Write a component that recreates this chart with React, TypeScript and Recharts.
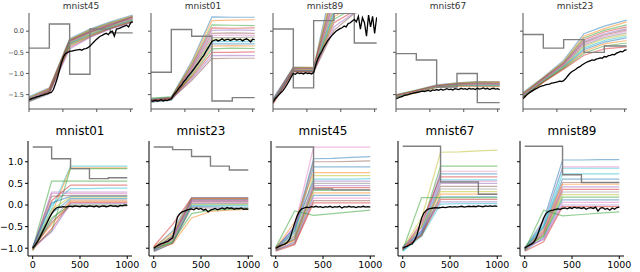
import { LineChart, Line, XAxis, YAxis } from 'recharts'

// breakpoints of the piecewise-linear runs
const TOP_X = [0, 300, 600, 900, 1200, 1530]
const BOT_X = [0, 200, 400, 600, 800, 1000]
const TOP_STEP = 30
const BOT_STEP = 25
const TOP_TICKS_X = [0, 500, 1000, 1500]
const BOT_TICKS_X = [0, 500, 1000]
const TOP_TICKS_Y = [0, -0.5, -1, -1.5]
const BOT_TICKS_Y = [1, 0.5, 0, -0.5, -1]

const TAB10 = ['#1f77b4', '#ff7f0e', '#2ca02c', '#d62728', '#9467bd', '#8c564b', '#e377c2', '#7f7f7f', '#bcbd22', '#17becf']

// ---- top row ----
const t45Fan = [
  [-1.55, -1.34, -0.18, 0.05, 0.22, 0.38],
  [-1.57, -1.35, -0.2, 0.03, 0.2, 0.36],
  [-1.58, -1.37, -0.21, 0.02, 0.19, 0.34],
  [-1.6, -1.38, -0.23, 0.0, 0.17, 0.33],
  [-1.61, -1.39, -0.24, -0.01, 0.16, 0.31],
  [-1.62, -1.4, -0.25, -0.03, 0.15, 0.3],
  [-1.59, -1.41, -0.26, -0.04, 0.14, 0.29],
  [-1.63, -1.42, -0.27, -0.05, 0.12, 0.28],
  [-1.64, -1.43, -0.28, -0.06, 0.11, 0.27],
  [-1.6, -1.44, -0.29, -0.08, 0.1, 0.26],
  [-1.65, -1.45, -0.3, -0.09, 0.09, 0.25],
  [-1.62, -1.46, -0.32, -0.1, 0.08, 0.24],
  [-1.66, -1.47, -0.34, -0.12, 0.07, 0.23],
  [-1.64, -1.44, -0.38, -0.13, 0.06, 0.22],
  [-1.67, -1.48, -0.42, -0.15, 0.05, 0.21],
  [-1.63, -1.42, -0.22, -0.02, 0.13, 0.35],
]
const t45Gray = [-0.4, 0.17, -1.02, 0.05, -0.04, -0.04]
const t45Black = [
  -1.62, -1.6, -1.58, -1.57, -1.55, -1.54, -1.52, -1.51, -1.49, -1.48,
  -1.46, -1.45, -1.38, -1.25, -1.1, -0.92, -0.74, -0.6, -0.53, -0.5,
  -0.48, -0.47, -0.46, -0.45, -0.44, -0.43, -0.45, -0.42, -0.41, -0.39,
  -0.35, -0.3, -0.25, -0.2, -0.16, -0.12, -0.1, -0.07, -0.05, -0.08,
  -0.02, 0.0, -0.12, 0.05, 0.06, 0.08, 0.1, 0.12, 0.14, 0.1,
  0.2, 0.22,
]

const t01Fan = [
  [-1.6, -1.56, -0.72, 0.34, 0.33, 0.33],
  [-1.62, -1.57, -0.76, 0.25, 0.26, 0.27],
  [-1.58, -1.55, -0.8, 0.15, 0.14, 0.13],
  [-1.63, -1.58, -0.83, 0.08, 0.07, 0.08],
  [-1.65, -1.6, -0.86, 0.02, 0.03, 0.02],
  [-1.61, -1.57, -0.89, -0.05, -0.04, -0.05],
  [-1.66, -1.61, -0.91, -0.1, -0.09, -0.1],
  [-1.64, -1.59, -0.94, -0.15, -0.15, -0.14],
  [-1.67, -1.62, -0.96, -0.2, -0.19, -0.2],
  [-1.62, -1.58, -0.98, -0.25, -0.24, -0.25],
  [-1.68, -1.63, -1.0, -0.3, -0.3, -0.3],
  [-1.65, -1.6, -1.03, -0.35, -0.34, -0.35],
  [-1.66, -1.61, -1.06, -0.42, -0.4, -0.41],
  [-1.63, -1.59, -1.09, -0.5, -0.5, -0.49],
  [-1.67, -1.62, -1.13, -0.58, -0.57, -0.58],
  [-1.64, -1.6, -1.17, -0.65, -0.64, -0.64],
]
const t01Gray = [-0.97, 0.04, -0.12, -1.65, -1.57, -1.57]
const t01Black = [
  -1.64, -1.66, -1.63, -1.65, -1.64, -1.62, -1.65, -1.63, -1.64, -1.62,
  -1.6, -1.52, -1.46, -1.4, -1.33, -1.28, -1.2, -1.15, -1.08, -1.02,
  -0.96, -0.9, -0.83, -0.77, -0.7, -0.63, -0.57, -0.48, -0.4, -0.32,
  -0.24, -0.22, -0.2, -0.23, -0.21, -0.18, -0.22, -0.2, -0.19, -0.22,
  -0.2, -0.18, -0.21, -0.2, -0.19, -0.23, -0.2, -0.18, -0.21, -0.25,
  -0.19, -0.2,
]

const t89Fan = [
  [-1.6, -0.85, -0.86, 1.3, 1.6, 1.8],
  [-1.62, -0.86, -0.85, 1.1, 1.4, 1.6],
  [-1.63, -0.87, -0.88, 1.0, 1.3, 1.5],
  [-1.65, -0.88, -0.87, 0.9, 1.2, 1.4],
  [-1.61, -0.89, -0.89, 0.8, 1.1, 1.3],
  [-1.66, -0.9, -0.9, 0.72, 1.0, 1.2],
  [-1.64, -0.9, -0.91, 0.65, 0.9, 1.1],
  [-1.67, -0.91, -0.92, 0.58, 0.85, 1.0],
  [-1.68, -0.92, -0.91, 0.52, 0.8, 0.95],
  [-1.65, -0.93, -0.93, 0.46, 0.75, 0.9],
  [-1.69, -0.93, -0.94, 0.4, 0.7, 0.85],
  [-1.7, -0.94, -0.95, 0.34, 0.62, 0.8],
  [-1.66, -0.95, -0.94, 0.28, 0.55, 0.7],
  [-1.71, -0.96, -0.96, 0.2, 0.48, 0.65],
  [-1.68, -0.92, -0.95, 0.1, 0.44, 0.6],
  [-1.72, -0.95, -0.97, 0.02, 0.42, 0.55],
]
const t89Gray = [0.05, -1.34, 0.25, 0.42, -0.28, -0.28]
const t89Black = [
  -1.68, -1.6, -1.55, -1.5, -1.45, -1.4, -1.33, -1.25, -1.17, -1.08,
  -1.0, -1.02, -0.98, -1.0, -0.99, -1.01, -0.98, -1.0, -0.99, -1.01,
  -0.98, -0.8, -0.66, -0.56, -0.48, -0.38, -0.3, -0.22, -0.16, -0.1,
  -0.05, 0.0, 0.03, 0.06, 0.08, 0.12, 0.1, 0.18, 0.2, 0.24,
  0.28, 0.22, 0.35, 0.05, 0.32, 0.2, -0.12, 0.38, 0.1, 0.35,
  -0.05, 0.33,
]

const t67Fan = [
  [-1.5, -1.39, -1.27, -1.22, -1.19, -1.19],
  [-1.51, -1.4, -1.28, -1.23, -1.2, -1.2],
  [-1.52, -1.4, -1.29, -1.24, -1.21, -1.22],
  [-1.52, -1.41, -1.29, -1.25, -1.23, -1.23],
  [-1.53, -1.42, -1.3, -1.25, -1.24, -1.24],
  [-1.54, -1.42, -1.3, -1.26, -1.25, -1.25],
  [-1.54, -1.43, -1.31, -1.27, -1.26, -1.26],
  [-1.55, -1.44, -1.31, -1.27, -1.27, -1.27],
  [-1.55, -1.44, -1.32, -1.28, -1.28, -1.28],
  [-1.56, -1.45, -1.32, -1.29, -1.29, -1.29],
  [-1.56, -1.45, -1.33, -1.29, -1.3, -1.3],
  [-1.57, -1.46, -1.33, -1.3, -1.31, -1.31],
]
const t67Gray = [-0.53, -0.68, -1.32, -1.0, -1.69, -1.69]
const t67Black = [
  -1.6, -1.58, -1.56, -1.55, -1.52, -1.51, -1.5, -1.48, -1.47, -1.46,
  -1.45, -1.44, -1.43, -1.42, -1.43, -1.41, -1.4, -1.42, -1.39, -1.4,
  -1.38, -1.4, -1.37, -1.39, -1.38, -1.36, -1.38, -1.37, -1.39, -1.36,
  -1.37, -1.38, -1.35, -1.37, -1.36, -1.38, -1.35, -1.37, -1.36, -1.38,
  -1.35, -1.37, -1.36, -1.34, -1.37, -1.35, -1.38, -1.36, -1.35, -1.37,
  -1.36, -1.38,
]

const t23Fan = [
  [-1.45, -1.09, -0.69, -0.06, 0.12, 0.26],
  [-1.47, -1.1, -0.72, -0.12, 0.06, 0.22],
  [-1.48, -1.11, -0.74, -0.16, 0.02, 0.15],
  [-1.5, -1.12, -0.76, -0.2, -0.02, 0.1],
  [-1.51, -1.13, -0.77, -0.24, -0.06, 0.06],
  [-1.52, -1.14, -0.79, -0.27, -0.09, 0.03],
  [-1.53, -1.15, -0.8, -0.3, -0.12, 0.0],
  [-1.54, -1.16, -0.82, -0.33, -0.15, -0.04],
  [-1.55, -1.17, -0.83, -0.36, -0.18, -0.08],
  [-1.55, -1.18, -0.84, -0.4, -0.22, -0.12],
  [-1.56, -1.19, -0.86, -0.44, -0.26, -0.16],
  [-1.57, -1.2, -0.87, -0.48, -0.3, -0.22],
  [-1.56, -1.2, -0.88, -0.52, -0.35, -0.28],
  [-1.57, -1.21, -0.9, -0.57, -0.42, -0.37],
]
const t23Gray = [-0.08, -0.4, -0.2, -0.5, -0.35, -0.35]
const t23Black = [
  -1.6, -1.55, -1.5, -1.46, -1.43, -1.4, -1.37, -1.35, -1.32, -1.3,
  -1.29, -1.27, -1.26, -1.25, -1.23, -1.22, -1.21, -1.2, -1.18, -1.19,
  -1.17, -1.12, -1.06, -1.0, -0.96, -0.93, -0.9, -0.86, -0.84, -0.8,
  -0.77, -0.74, -0.72, -0.7, -0.68, -0.69, -0.66, -0.65, -0.63, -0.64,
  -0.6, -0.61, -0.58, -0.57, -0.55, -0.56, -0.52, -0.5, -0.48, -0.49,
  -0.45, -0.44,
]

// ---- bottom row ----
const b01Fan = [
  [-1.0, -0.1, 0.9, 0.9, 0.9, 0.9],
  [-1.02, -0.2, 0.86, 0.86, 0.86, 0.86],
  [-0.98, -0.6, 0.84, 0.84, 0.84, 0.84],
  [-1.0, 0.55, 0.55, 0.55, 0.55, 0.55],
  [-1.03, 0.1, 0.46, 0.46, 0.46, 0.46],
  [-0.97, 0.0, 0.38, 0.38, 0.39, 0.39],
  [-1.01, 0.3, 0.3, 0.3, 0.3, 0.3],
  [-1.04, 0.27, 0.27, 0.27, 0.27, 0.27],
  [-0.99, 0.2, 0.22, 0.22, 0.22, 0.22],
  [-1.05, -0.1, 0.18, 0.18, 0.18, 0.18],
  [-1.0, -0.2, 0.15, 0.15, 0.15, 0.15],
  [-1.02, -0.35, 0.12, 0.12, 0.12, 0.12],
  [-0.98, -0.45, 0.09, 0.09, 0.09, 0.09],
  [-1.03, -0.55, 0.06, 0.06, 0.06, 0.06],
  [-1.0, -0.62, 0.03, 0.03, 0.03, 0.03],
  [-1.06, -0.3, 0.0, 0.0, 0.0, 0.0],
  [-0.96, 0.05, 0.2, 0.2, 0.2, 0.2],
  [-1.01, -0.4, -0.02, -0.02, -0.02, -0.02],
]
const b01Gray = [1.34, 1.07, 0.84, 0.61, 0.63, 0.63]
const b01Black = [
  -1.0, -0.93, -0.85, -0.75, -0.64, -0.53, -0.42, -0.3, -0.2, -0.12,
  -0.07, -0.05, -0.05, -0.04, -0.05, -0.03, -0.03, -0.04, -0.02, -0.03,
  -0.04, -0.02, -0.03, -0.04, -0.02, -0.03, -0.04, -0.02, -0.05, -0.03,
  -0.02, -0.04, -0.03, -0.01, -0.03, -0.02, -0.04, -0.01, -0.02, 0.0,
  -0.01,
]

const b23Fan = [
  [-1.0, -0.6, 0.17, 0.17, 0.17, 0.17],
  [-0.97, -0.65, 0.15, 0.15, 0.15, 0.15],
  [-1.02, -0.7, 0.13, 0.13, 0.13, 0.13],
  [-1.04, -0.72, 0.11, 0.11, 0.11, 0.11],
  [-0.99, -0.75, 0.09, 0.09, 0.09, 0.09],
  [-1.05, -0.78, 0.07, 0.07, 0.07, 0.07],
  [-1.01, -0.8, 0.05, 0.05, 0.05, 0.05],
  [-1.06, -0.82, 0.03, 0.03, 0.03, 0.03],
  [-0.98, -0.84, 0.01, 0.01, 0.01, 0.01],
  [-1.03, -0.86, -0.01, -0.01, -0.01, -0.01],
  [-1.07, -0.88, -0.03, -0.04, -0.05, -0.05],
  [-1.0, -0.9, -0.3, -0.15, -0.12, -0.1],
  [-1.02, -0.85, -0.2, -0.12, -0.1, -0.08],
  [-0.96, -0.45, 0.16, 0.16, 0.16, 0.16],
  [-1.04, -0.76, 0.12, 0.12, 0.12, 0.12],
  [-1.08, -0.88, -0.06, -0.07, -0.08, -0.08],
]
const b23Gray = [1.34, 1.28, 1.12, 0.9, 0.81, 0.81]
const b23Black = [
  -1.0, -0.96, -0.93, -0.9, -0.88, -0.86, -0.84, -0.8, -0.76, -0.55,
  -0.28, -0.2, -0.16, -0.14, -0.12, -0.1, -0.09, -0.11, -0.07, -0.1,
  -0.08, -0.12, -0.1, -0.16, -0.12, -0.1, -0.08, -0.11, -0.09, -0.07,
  -0.1, -0.06, -0.08, -0.07, -0.1, -0.08, -0.09, -0.07, -0.1, -0.09,
  -0.1,
]

const b45Fan = [
  [-1.0, -0.5, 1.34, 1.34, 1.34, 1.34],
  [-0.98, -0.55, 1.07, 1.08, 1.1, 1.12],
  [-1.02, -0.6, 1.0, 1.0, 1.01, 1.02],
  [-1.0, -0.65, 0.88, 0.88, 0.88, 0.88],
  [-1.04, -0.7, 0.68, 0.68, 0.68, 0.68],
  [-0.97, -0.6, 0.6, 0.6, 0.6, 0.61],
  [-1.01, -0.72, 0.5, 0.5, 0.5, 0.5],
  [-1.05, -0.75, 0.45, 0.45, 0.45, 0.45],
  [-1.0, -0.8, 0.4, 0.4, 0.4, 0.4],
  [-1.03, -0.78, 0.34, 0.34, 0.34, 0.34],
  [-0.99, -0.82, 0.28, 0.28, 0.28, 0.28],
  [-1.06, -0.85, 0.22, 0.22, 0.22, 0.22],
  [-1.01, -0.88, 0.16, 0.16, 0.16, 0.16],
  [-1.04, -0.9, 0.1, 0.1, 0.1, 0.1],
  [-0.98, -0.14, -0.24, -0.2, -0.16, -0.12],
  [-1.07, -0.92, 0.05, 0.05, 0.05, 0.05],
  [-1.02, -0.5, 0.55, 0.55, 0.55, 0.55],
  [-1.0, -0.4, 0.75, 0.75, 0.75, 0.75],
]
const b45Gray = [1.34, 1.34, 0.37, 0.35, 0.35, 0.35]
const b45Black = [
  -1.0, -0.97, -0.94, -0.92, -0.9, -0.86, -0.78, -0.6, -0.42, -0.26,
  -0.15, -0.09, -0.07, -0.05, -0.06, -0.04, -0.05, -0.03, -0.05, -0.04,
  -0.06, -0.04, -0.05, -0.03, -0.06, -0.04, -0.05, -0.03, -0.07, -0.04,
  -0.05, -0.03, -0.05, -0.04, -0.06, -0.04, -0.05, -0.03, -0.05, -0.04,
  -0.05,
]

const b67Fan = [
  [-1.0, -0.3, 1.22, 1.23, 1.25, 1.27],
  [-0.98, -0.5, 0.9, 0.9, 0.9, 0.9],
  [-1.02, -0.55, 0.78, 0.78, 0.78, 0.78],
  [-1.0, -0.6, 0.72, 0.72, 0.72, 0.72],
  [-1.04, -0.4, 0.65, 0.65, 0.65, 0.65],
  [-0.97, -0.62, 0.58, 0.58, 0.58, 0.58],
  [-1.01, -0.65, 0.5, 0.5, 0.5, 0.5],
  [-1.05, -0.68, 0.43, 0.43, 0.43, 0.43],
  [-1.0, -0.7, 0.37, 0.37, 0.37, 0.37],
  [-1.03, -0.5, 0.31, 0.31, 0.31, 0.31],
  [-0.99, -0.72, 0.25, 0.25, 0.25, 0.25],
  [-1.06, -0.66, 0.19, 0.19, 0.19, 0.19],
  [-1.01, -0.7, 0.13, 0.13, 0.13, 0.13],
  [-1.04, 0.17, 0.17, 0.17, 0.17, 0.17],
  [-0.98, -0.6, 0.07, 0.07, 0.07, 0.07],
  [-1.07, -0.72, 0.02, 0.03, 0.03, 0.03],
  [-1.02, -0.45, 0.55, 0.55, 0.55, 0.55],
]
const b67Gray = [1.36, 1.36, 0.53, 0.53, 0.25, 0.25]
const b67Black = [
  -1.0, -0.97, -0.95, -0.92, -0.9, -0.82, -0.7, -0.5, -0.3, -0.18,
  -0.12, -0.09, -0.08, -0.07, -0.06, -0.07, -0.06, -0.05, -0.06, -0.05,
  -0.04, -0.05, -0.04, -0.05, -0.04, -0.03, -0.05, -0.04, -0.03, -0.04,
  -0.03, -0.04, -0.02, -0.03, -0.04, -0.02, -0.03, -0.02, -0.03, -0.02,
  -0.03,
]

const b89Fan = [
  [-1.0, -0.35, 1.04, 1.04, 1.05, 1.05],
  [-1.02, -0.4, 0.88, 0.88, 0.88, 0.88],
  [-0.98, -0.45, 0.85, 0.85, 0.85, 0.85],
  [-1.0, -0.5, 0.6, 0.6, 0.6, 0.6],
  [-1.04, -0.55, 0.52, 0.52, 0.52, 0.52],
  [-0.97, -0.6, 0.48, 0.48, 0.48, 0.48],
  [-1.01, -0.62, 0.42, 0.42, 0.42, 0.42],
  [-1.05, -0.65, 0.36, 0.36, 0.36, 0.36],
  [-1.0, -0.68, 0.3, 0.3, 0.3, 0.3],
  [-1.03, -0.7, 0.24, 0.24, 0.24, 0.24],
  [-0.99, -0.72, 0.18, 0.18, 0.18, 0.18],
  [-1.06, -0.75, 0.12, 0.12, 0.12, 0.12],
  [-1.01, -0.78, 0.06, 0.06, 0.06, 0.06],
  [-1.04, -0.12, -0.25, -0.22, -0.19, -0.16],
  [-0.98, -0.8, 0.0, 0.0, 0.0, 0.0],
  [-1.07, -0.85, -0.04, -0.04, -0.04, -0.04],
  [-1.02, -0.5, 0.72, 0.72, 0.72, 0.72],
]
const b89Gray = [1.36, 1.36, 0.7, 0.52, 0.52, 0.52]
const b89Black = [
  -1.0, -0.96, -0.93, -0.9, -0.85, -0.75, -0.6, -0.45, -0.3, -0.2,
  -0.15, -0.13, -0.12, -0.1, -0.09, -0.1, -0.08, -0.07, -0.09, -0.06,
  -0.08, -0.05, -0.07, -0.06, -0.08, -0.06, -0.1, -0.07, -0.06, -0.08,
  -0.05, -0.14, -0.07, -0.06, -0.1, -0.08, -0.12, -0.07, -0.1, -0.06,
  -0.05,
]

// colour order of the fan lines (indexes into TAB10)
const b01Colors = [9, 1, 2, 2, 3, 9, 4, 6, 5, 8, 0, 7, 1, 3, 4, 2, 0, 5]
const b45Colors = [6, 0, 5, 0, 8, 9, 7, 4, 3, 2, 1, 0, 6, 5, 2, 3, 4, 1]
const b67Colors = [8, 2, 6, 0, 3, 9, 4, 5, 7, 8, 1, 0, 3, 2, 4, 9, 6]
const b89Colors = [0, 6, 9, 0, 5, 1, 4, 3, 7, 8, 2, 0, 6, 2, 4, 3, 9]

const fmtY = (v: number) => (v < 0 ? '\u2212' : '') + Math.abs(v).toFixed(1)
const blank = () => ''

type PanelProps = {
  title: string
  fan: number[][]
  gray: number[]
  black: number[]
  colors?: number[]
  left: number
  top: boolean
  labels: boolean
}

const YAW = 40
const RM = 16

function Panel({ title, fan, gray, black, colors, left, top, labels }: PanelProps) {
  const xs = top ? TOP_X : BOT_X
  const step = top ? TOP_STEP : BOT_STEP
  const w = 104
  const h = top ? 96 : 115
  const y0 = top ? 13 : 141
  const xDomain = top ? [0, 1535] : [-50, 1050]
  const yDomain = top ? [-1.84, 0.43] : [-1.18, 1.48]
  const frame = top ? '#555' : '#000'
  const tickFont = top ? 6.5 : 9.5
  const tickFill = top ? '#444' : '#000'

  const fanData = fan.map(vals => vals.map((y, i) => ({ x: xs[i], y })))
  const grayData = gray.map((y, i) => ({ x: xs[i], y }))
  const blackData = black.map((y, i) => ({ x: i * step, y }))

  return (
    <>
      <div
        style={{
          position: 'absolute',
          left,
          width: w,
          top: top ? 0 : 124,
          textAlign: 'center',
          fontFamily: 'DejaVu Sans',
          fontSize: top ? 9 : 12,
          color: top ? '#333' : '#000',
          lineHeight: top ? '12px' : '15px',
        }}
      >
        {title}
      </div>
      <div style={{ position: 'absolute', left: left - YAW, top: y0 }}>
        <LineChart width={w + YAW + RM} height={h + 22} margin={{ top: 0, right: RM, bottom: 0, left: 0 }}>
          <XAxis
            xAxisId="b"
            type="number"
            dataKey="x"
            domain={xDomain}
            ticks={top ? TOP_TICKS_X : BOT_TICKS_X}
            allowDataOverflow
            height={22}
            tickSize={3}
            tickMargin={2}
            stroke={frame}
            tickFormatter={top ? blank : (v: number) => String(v)}
            tick={{ fontSize: tickFont, fill: tickFill, fontFamily: 'DejaVu Sans' }}
          />
          <XAxis xAxisId="t" orientation="top" type="number" domain={xDomain} height={0} tick={false} tickLine={false} stroke={frame} />
          <YAxis
            yAxisId="l"
            type="number"
            domain={yDomain}
            ticks={top ? TOP_TICKS_Y : BOT_TICKS_Y}
            allowDataOverflow
            width={YAW}
            tickSize={3}
            tickMargin={2}
            stroke={frame}
            tickFormatter={labels ? fmtY : blank}
            tick={{ fontSize: tickFont, fill: tickFill, fontFamily: 'DejaVu Sans' }}
          />
          <YAxis yAxisId="r" orientation="right" type="number" domain={yDomain} width={0} tick={false} tickLine={false} stroke={frame} />
          {fanData.map((d, i) => (
            <Line
              key={i}
              xAxisId="b"
              yAxisId="l"
              data={d}
              dataKey="y"
              type="linear"
              dot={false}
              stroke={TAB10[colors ? colors[i] : i % 10]}
              strokeOpacity={0.5}
              strokeWidth={1.2}
              isAnimationActive={false}
            />
          ))}
          <Line xAxisId="b" yAxisId="l" data={grayData} dataKey="y" type="stepAfter" dot={false} stroke="#808080" strokeWidth={1.4} isAnimationActive={false} />
          <Line xAxisId="b" yAxisId="l" data={blackData} dataKey="y" type="linear" dot={false} stroke="#000" strokeWidth={1.3} isAnimationActive={false} />
        </LineChart>
      </div>
    </>
  )
}

export default function App() {
  return (
    <div style={{ position: 'absolute', left: 0, top: 0, width: 640, height: 272, background: '#fff', overflow: 'hidden' }}>
      <Panel title="mnist45" fan={t45Fan} gray={t45Gray} black={t45Black} left={29} top labels />
      <Panel title="mnist01" fan={t01Fan} gray={t01Gray} black={t01Black} left={151} top labels={false} />
      <Panel title="mnist89" fan={t89Fan} gray={t89Gray} black={t89Black} left={273} top labels={false} />
      <Panel title="mnist67" fan={t67Fan} gray={t67Gray} black={t67Black} left={396} top labels={false} />
      <Panel title="mnist23" fan={t23Fan} gray={t23Gray} black={t23Black} left={523} top labels={false} />
      <Panel title="mnist01" fan={b01Fan} gray={b01Gray} black={b01Black} colors={b01Colors} left={28} top={false} labels />
      <Panel title="mnist23" fan={b23Fan} gray={b23Gray} black={b23Black} left={149} top={false} labels={false} />
      <Panel title="mnist45" fan={b45Fan} gray={b45Gray} black={b45Black} colors={b45Colors} left={271} top={false} labels={false} />
      <Panel title="mnist67" fan={b67Fan} gray={b67Gray} black={b67Black} colors={b67Colors} left={398} top={false} labels={false} />
      <Panel title="mnist89" fan={b89Fan} gray={b89Gray} black={b89Black} colors={b89Colors} left={520} top={false} labels={false} />
    </div>
  )
}
